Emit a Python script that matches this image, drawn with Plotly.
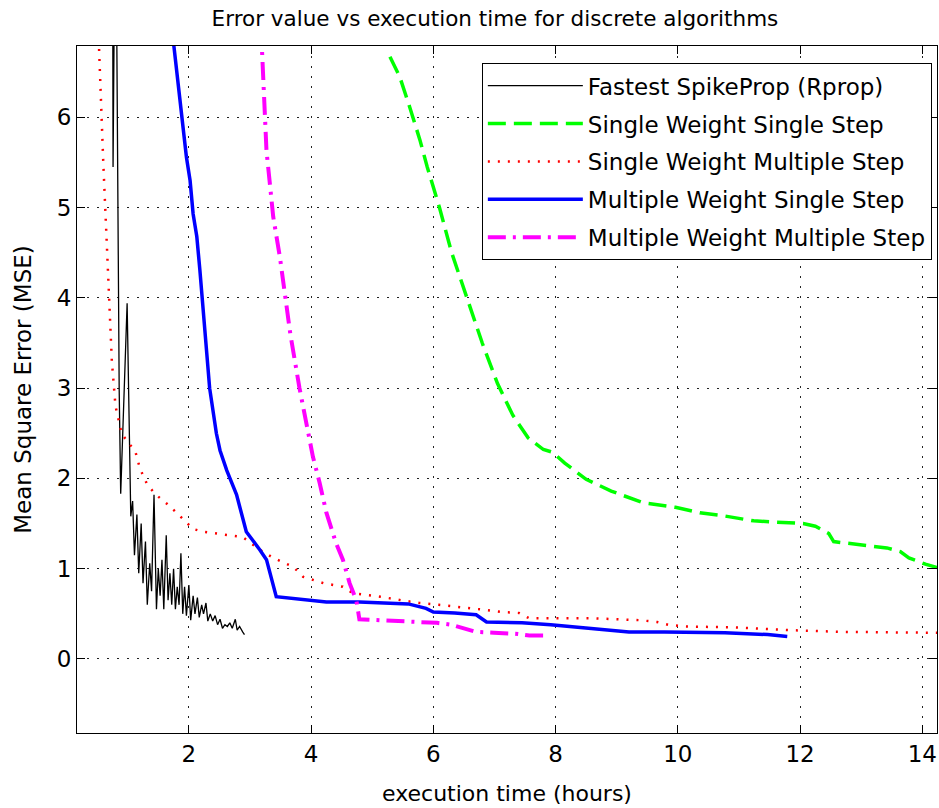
import plotly.graph_objects as go

# ---------------- data ----------------
series_names = [
    "Fastest SpikeProp (Rprop)",
    "Single Weight Single Step",
    "Single Weight Multiple Step",
    "Multiple Weight Single Step",
    "Multiple Weight Multiple Step",
]

fast_x = [0.75, 0.76, 0.80, 0.84, 0.86, 0.885, 0.99, 1.05,
          1.08, 1.11, 1.15, 1.18, 1.22, 1.25, 1.29, 1.32, 1.36, 1.39,
          1.43, 1.47, 1.50, 1.53, 1.56, 1.59, 1.63, 1.66, 1.69, 1.72,
          1.75, 1.78, 1.81, 1.84, 1.87, 1.90, 1.93, 1.96, 2.00, 2.03,
          2.07, 2.10, 2.14, 2.17, 2.21, 2.24, 2.28, 2.31, 2.35, 2.39,
          2.43, 2.47, 2.51, 2.55, 2.59, 2.63, 2.67, 2.71, 2.76, 2.79,
          2.83, 2.88, 2.91]
fast_y = [9.0, 5.45, 9.0, 4.3, 3.0, 1.83, 3.94, 1.58,
          1.75, 1.15, 1.60, 0.95, 1.50, 0.84, 1.30, 0.60, 1.06, 0.75,
          1.82, 0.55, 1.00, 0.70, 1.10, 0.55, 1.37, 0.65, 0.95, 0.60,
          1.00, 0.55, 0.80, 0.60, 1.17, 0.50, 0.80, 0.48, 0.82, 0.43,
          0.70, 0.50, 0.68, 0.46, 0.60, 0.50, 0.62, 0.42, 0.50, 0.42,
          0.48, 0.38, 0.44, 0.34, 0.38, 0.36, 0.40, 0.34, 0.44, 0.32,
          0.36, 0.30, 0.27]

swss_x = [5.29, 5.45, 5.61, 5.78, 5.90, 6.10, 6.30, 6.55, 6.80, 7.05,
          7.30, 7.55, 7.80, 7.95, 8.15, 8.50, 8.91, 9.43, 9.96, 10.36,
          10.71, 11.24, 11.70, 12.05, 12.25, 12.47, 12.55, 12.80, 13.10,
          13.42, 13.64, 13.78, 13.90, 14.05, 14.26, 14.40]
swss_y = [6.67, 6.45, 6.12, 5.75, 5.45, 5.00, 4.50, 4.00, 3.50, 3.05,
          2.70, 2.45, 2.32, 2.29, 2.17, 1.99, 1.86, 1.73, 1.68, 1.62,
          1.59, 1.53, 1.51, 1.50, 1.47, 1.39, 1.30, 1.28, 1.25,
          1.23, 1.19, 1.12, 1.09, 1.05, 1.01, 0.98]

swms_x = [0.50, 0.53, 0.60, 0.68, 0.74, 0.80, 0.90, 1.00, 1.12, 1.20,
          1.32, 1.46, 1.64, 1.80, 1.96, 2.07, 2.23, 2.56, 2.88, 3.16,
          3.38, 3.71, 3.87, 4.20, 4.52, 4.68, 5.13, 5.48, 5.77, 6.09,
          6.41, 6.76, 7.11, 7.40, 7.57, 8.04, 8.62, 9.37, 9.66, 9.84,
          10.13, 10.94, 11.82, 12.69, 13.56, 14.30]
swms_y = [7.20, 6.78, 5.50, 4.22, 3.30, 2.80, 2.50, 2.40, 2.31, 2.11,
          1.93, 1.82, 1.72, 1.62, 1.51, 1.44, 1.41, 1.38, 1.35, 1.21,
          1.12, 1.02, 0.91, 0.84, 0.80, 0.73, 0.69, 0.65, 0.62, 0.60,
          0.58, 0.55, 0.52, 0.51, 0.45, 0.45, 0.45, 0.43, 0.41, 0.38,
          0.36, 0.35, 0.32, 0.30, 0.29, 0.29]

mwss_x = [1.72, 1.80, 1.85, 1.91, 1.96, 2.02, 2.07, 2.13, 2.18, 2.34,
          2.45, 2.51, 2.62, 2.78, 2.94, 3.16, 3.27, 3.43, 3.70, 4.25,
          4.79, 5.13, 5.59, 5.88, 6.00, 6.35, 6.70, 6.87, 7.45, 7.92,
          8.56, 9.20, 9.78, 10.77, 11.47, 11.79]
mwss_y = [7.00, 6.56, 6.22, 5.86, 5.56, 5.30, 4.93, 4.68, 4.31, 3.00,
          2.50, 2.31, 2.09, 1.82, 1.41, 1.21, 1.10, 0.69, 0.67, 0.63,
          0.63, 0.62, 0.61, 0.56, 0.52, 0.51, 0.49, 0.41, 0.40, 0.38,
          0.34, 0.30, 0.30, 0.29, 0.27, 0.25]

mwms_x = [3.18, 3.24, 3.27, 3.32, 3.38, 3.49, 3.54, 3.66, 3.81, 3.93,
          4.03, 4.14, 4.25, 4.41, 4.52, 4.63, 4.74, 4.79, 5.13, 5.48,
          5.71, 6.06, 6.29, 6.52, 6.70, 6.99, 7.34, 7.57, 7.80]
mwms_y = [7.00, 6.22, 5.63, 5.30, 4.90, 4.45, 4.22, 3.60, 3.00, 2.60,
          2.24, 1.95, 1.62, 1.28, 1.10, 0.84, 0.65, 0.44, 0.43, 0.42,
          0.41, 0.40, 0.38, 0.34, 0.30, 0.29, 0.28, 0.26, 0.26]

x_ticks = [2, 4, 6, 8, 10, 12, 14]
y_ticks = [0, 1, 2, 3, 4, 5, 6]

# ---------------- styling ----------------
styles = [
    dict(color="#000000", width=1.3, dash="solid"),
    dict(color="#00FF00", width=3.5, dash="18px,8px"),
    dict(color="#FF0000", width=2.5, dash="2px,8px"),
    dict(color="#0000FF", width=3.5, dash="solid"),
    dict(color="#FF00FF", width=4, dash="18px,7px,3px,7px"),
]
xs = [fast_x, swss_x, swms_x, mwss_x, mwms_x]
ys = [fast_y, swss_y, swms_y, mwss_y, mwms_y]

fig = go.Figure()
for i, (name, x, y, st) in enumerate(zip(series_names, xs, ys, styles)):
    fig.add_trace(go.Scatter(x=x, y=y, mode="lines", name=name,
                             legendgroup=f"g{i}", line=st))

FONT = "DejaVu Sans"
grid = dict(showgrid=True, gridcolor="#222222", gridwidth=1, griddash="2px,8px",
            zeroline=False, showline=True, linecolor="#000000", linewidth=1,
            mirror="ticks", ticks="inside", ticklen=8, tickcolor="#000000",
            tickwidth=1, automargin=False, tickfont=dict(size=23, color="#000000"))

fig.update_layout(
    width=939, height=808,
    margin=dict(l=77, r=2, t=46, b=75, pad=0),
    paper_bgcolor="white", plot_bgcolor="white",
    font=dict(family=FONT, color="#000000"),
    title=dict(text="Error value vs execution time for discrete algorithms",
               font=dict(size=21.5), x=0.486, xref="paper", xanchor="center",
               y=1 - 18 / 808, yref="container", yanchor="middle"),
    xaxis=dict(range=[0.17, 14.24], tickvals=x_ticks, ticktext=[str(v) for v in x_ticks],
               title=dict(text="execution time (hours)", font=dict(size=22), standoff=20),
               **grid),
    yaxis=dict(range=[-0.82, 6.79], tickvals=y_ticks, ticktext=[str(v) for v in y_ticks],
               title=dict(text="Mean Square Error (MSE)", font=dict(size=23), standoff=18),
               **grid),
    legend=dict(x=0.994, xanchor="right", y=0.975, yanchor="top",
                bgcolor="white", bordercolor="#000000", borderwidth=1,
                font=dict(size=23, color="#000000"), itemwidth=95,
                tracegroupgap=5, traceorder="grouped"),
    showlegend=True,
)

fig.write_html("out.html", config={"displayModeBar": False},
               post_script="document.body.style.margin='0px';")
